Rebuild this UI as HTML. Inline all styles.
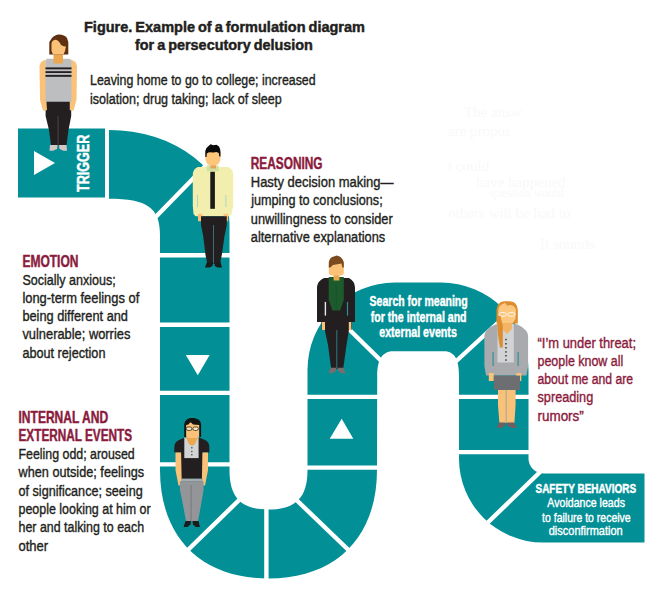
<!DOCTYPE html>
<html><head><meta charset="utf-8"><style>
html,body{margin:0;padding:0;background:#fff;}
body{width:665px;height:600px;overflow:hidden;}
svg{display:block;}
svg{font-family:"Liberation Sans", sans-serif;}
</style></head><body>
<svg width="665" height="600" viewBox="0 0 665 600">
<g style="font-family:'Liberation Serif',serif" font-size="15" fill="#f9f9f9">
<text x="464" y="117">The answ</text>
<text x="448" y="136">are propos</text>
<text x="448" y="171">t could</text>
<text x="476" y="187">have happened</text>
<text x="490" y="197" font-size="12">question would</text>
<text x="448" y="218">others will be had to</text>
<text x="540" y="249">It sounds</text>
</g>

<path fill="#028f96" d="M109,130 A120.5,93.5 0 0 1 229.5,223.5 L229.5,470
 C229.5,497.65 241.2,509.5 268.5,509.5 C295.8,509.5 307.5,497.65 307.5,470
 L307.5,370 A87.5,87.5 0 0 1 395,282.5 L441,282.5 A87.5,87.5 0 0 1 528.5,370
 L528.5,458.5 A15,15 0 0 0 543.5,473.5 L644.5,473.5 L644.5,542.5 L543,542.5
 A84,84 0 0 1 459,458.5 L459,376 C459,362 456,351.3 444,351.3 L393,351.3 C381,351.3 377.2,362 377.2,376
 L377,470 C377,537.3 335.8,578.5 268.5,578.5 C201.2,578.5 160,537.3 160,470
 L160,235 C160,207.8 147.25,198.75 109,198.75 Z"/>
<rect x="18" y="128.5" width="87" height="69" fill="#028f96"/>


<g stroke="#fff" stroke-width="4.4">
<line x1="141" y1="232" x2="223" y2="148"/>
<line x1="150" y1="255.25" x2="240" y2="255.25"/>
<line x1="150" y1="324.75" x2="240" y2="324.75"/>
<line x1="150" y1="392.9" x2="240" y2="392.9"/>
<line x1="150" y1="464.35" x2="240" y2="464.35"/>
<line x1="171.5" y1="566" x2="253.5" y2="486"/>
<line x1="266.4" y1="500" x2="266.4" y2="590"/>
<line x1="285" y1="489" x2="362" y2="563"/>
<line x1="300" y1="467.65" x2="390" y2="467.65"/>
<line x1="300" y1="396.85" x2="540" y2="396.85"/>
<line x1="336" y1="316.5" x2="392" y2="371.5"/>
<line x1="446" y1="370.5" x2="508" y2="313.5"/>
<line x1="450" y1="452.1" x2="540" y2="452.1"/>
<line x1="477" y1="533" x2="554" y2="458.5"/>
</g>
<polygon fill="#fff" points="34,151 55,163 34,175"/>
<polygon fill="#fff" points="185.8,355 209.7,355 197.8,375.3"/>
<polygon fill="#fff" points="341.7,418.7 353.3,438.8 329.7,438.8"/>

<g id="p1">
<!-- arms -->
<polygon fill="#f9c278" points="41,62 45.5,59.5 47.5,102 47,110.5 43,110.5 40,100 39.5,66"/>
<polygon fill="#f9c278" points="71,59.5 75.5,62 77,66 76.5,100 73.5,110.5 69.5,110.5 69.5,102"/>
<!-- shirt -->
<path fill="#bcbec0" d="M47,58.8 L69.5,58.8 Q71.5,59.5 71.5,62 L71.5,102 L45.5,102 L45.5,62 Q45.5,59.5 47,58.8Z"/>
<rect x="45.5" y="67.4" width="26" height="1.9" fill="#231f20"/>
<rect x="45.5" y="71.2" width="26" height="1.8" fill="#231f20"/>
<rect x="45.5" y="74.9" width="26" height="1.9" fill="#231f20"/>
<!-- neck -->
<rect x="53.5" y="53" width="9.5" height="10.5" fill="#eba84e"/>
<!-- hair -->
<path fill="#5e2f10" d="M52,38 Q55,34.5 59,34.5 Q64.5,34.5 67,38 L68.3,42 L68.3,54.6 L49.3,54.6 L49.3,42 Z"/>
<!-- face -->
<path fill="#f9c278" d="M51.5,43 Q53,39.5 56,39.8 Q59.5,41 61,45 Q64,46.5 66,46.5 L65,51 L63.5,54.6 L53,54.6 L51.5,51 Z"/>
<!-- pants -->
<polygon fill="#231f20" points="46.5,101.8 69.8,101.8 69.8,110 71.2,110.5 71.2,116 68.5,130 66.5,145.2 51,145.2 49,130 45.6,116 45.6,110.5 47,110"/>
<rect x="57.6" y="116" width="0.9" height="29" fill="#4a4a4c"/>
<path fill="#d6c6c6" d="M50,145 L57.5,145 L57,149 L53,150.7 L49.5,150.7 Z M59,145 L66.5,145 L67,150.7 L63.5,150.7 L59.5,149 Z"/>
</g>

<g id="p2">
<!-- shirt -->
<path fill="#f2eeae" d="M198,167 L228,167 Q232.5,168.5 233.2,174 L233.2,206 L231.5,214 L229.5,216.3 L195.5,216.3 L193.5,214 L192.8,206 L192.8,174 Q193.5,168.5 198,167Z"/>
<rect x="197.2" y="195" width="0.8" height="12" fill="#9fcfc4"/>
<rect x="225.5" y="195" width="0.8" height="12" fill="#9fcfc4"/>
<!-- collar -->
<rect x="206.8" y="165.5" width="11.8" height="5.8" fill="#cfe09f"/>
<rect x="210.5" y="164" width="5.5" height="4.5" fill="#e9a25a"/>
<!-- tie -->
<rect x="210.3" y="171.8" width="4.6" height="37" fill="#1c1a1a"/>
<!-- head -->
<polygon fill="#fdc67a" points="205.5,152 220.4,152 220.4,160 218.5,164 215.5,165.6 210,165.6 207.3,164 205.5,160"/>
<path fill="#0a0a0a" d="M205.3,157 L205.3,151 Q206,147.5 208,146.5 L210.5,144.3 L213.5,145.3 L216.5,144.8 L219,146.5 Q220.5,149 220.5,152 L220.5,156.5 L219.3,156.5 L218.8,153 L216.5,152 L213.5,152.6 L209,152.3 L206.8,153.5 L206.5,157 Z"/>
<!-- hands -->
<rect x="198" y="213.8" width="4.4" height="7.4" fill="#fbc278"/>
<rect x="223.6" y="213.8" width="4.4" height="7.4" fill="#fbc278"/>
<!-- pants -->
<polygon fill="#231f20" points="201,216.2 226.8,216.2 226.8,225 224.5,236 221.8,255 220,263.8 207.4,263.8 205.5,255 203.2,236 201,225"/>
<rect x="213" y="225" width="1" height="38" fill="#3a6e70"/>
<path fill="#1c1a1a" d="M207,262 L213,262 L212.5,266 L209.5,267.6 L205,267.6 Z M214.5,262 L220.5,262 L222,267.6 L217.5,267.6 L214.8,266 Z"/>
</g>

<g id="p3">
<!-- jacket -->
<path fill="#231f20" d="M324,278 L349,278 Q354.5,281 355,287 L355,322 L351.5,322 L351.5,330 L321.5,330 L321.5,322 L317,322 L317,287 Q317.5,281 324,278Z"/>
<rect x="324.7" y="301.9" width="1.4" height="13.7" fill="#e6e6e6"/>
<rect x="346.9" y="301.9" width="1.2" height="13.7" fill="#2f8f96"/>
<!-- scarf -->
<polygon fill="#1d5b2d" points="328.7,277 343.8,277 343.8,300 340,310.6 332.5,310.6 328.7,300"/>
<rect x="335.8" y="285" width="0.9" height="24" fill="#17502a"/>
<!-- neck & head -->
<rect x="333.6" y="274" width="5.8" height="6.5" fill="#eba84e"/>
<rect x="328.8" y="262" width="15" height="13.6" rx="3" fill="#fbc278"/>
<path fill="#7b4a1f" d="M328.8,267.5 L328.8,262 Q330,257 334,256.6 L336.5,255.6 Q342,256.5 343.8,262 L343.8,267.5 L342.3,267.5 L341.5,263.5 L333,265 L330.3,267.5 Z"/>
<!-- hands -->
<rect x="321.9" y="322" width="5" height="8" fill="#fbc278"/>
<rect x="346.2" y="322" width="5" height="8" fill="#fbc278"/>
<!-- pants -->
<polygon fill="#231f20" points="325,318.7 348.8,318.7 348.8,331 346.5,345 343.2,368.8 331.2,368.8 328,345 325,331"/>
<rect x="336.3" y="330" width="1" height="38" fill="#2d7b80"/>
<path fill="#7d6e6e" d="M330.5,367.8 L336.5,367.8 L335.5,371.5 L332,373.2 L328.8,373.2 Z M337.5,367.8 L343.5,367.8 L345.6,373.2 L342,373.2 L338.5,371.5 Z"/>
</g>

<g id="p4">
<!-- cardigan -->
<path fill="#a8aaad" d="M496,324.2 L517,324.2 L522,327 L526.5,331 L528.1,335 L528.1,366 L526.5,375.6 L486,375.6 L484.4,366 L484.4,335 L486,331 L490.5,327 Z"/>
<rect x="492.5" y="352" width="1.2" height="14" fill="#2f9096"/>
<rect x="517.5" y="352" width="1.2" height="14" fill="#2f9096"/>
<rect x="497.5" y="323.7" width="16.3" height="38.8" fill="#d1d3d4"/>
<g fill="#58595b"><rect x="505" y="338.8" width="1.9" height="1.5"/><rect x="505" y="343" width="1.9" height="1.5"/><rect x="505" y="347" width="1.9" height="1.5"/><rect x="505" y="351.2" width="1.9" height="1.5"/><rect x="505" y="355" width="1.9" height="1.5"/><rect x="505" y="359.3" width="1.9" height="1.5"/></g>
<!-- neck -->
<polygon fill="#f3b565" points="502,322 512,322 512,329 507,334 502,329"/>
<!-- hair back & face -->
<path fill="#dd8d2e" d="M496.5,323.5 L496.5,310 Q497,302 504,301.3 L510,301.3 Q517.5,302 517.8,310 L517.8,323.5 Z"/>
<path fill="#fcc880" d="M498.3,310 Q499,305 503,304 L505,302.8 L507,305.5 L511,305 Q515.5,306 516,310.5 L515.5,319 L512.5,323.5 L501.5,323.5 L498.3,319 Z"/>
<g fill="none" stroke="#fff6ea" stroke-width="1"><rect x="499.3" y="312.6" width="7" height="3.6" rx="1.8"/><rect x="507.9" y="312.6" width="7" height="3.6" rx="1.8"/></g>
<polygon fill="#dd8d2e" points="496.8,316 500.5,316 502.8,326 502.8,347.5 500,347.5 498,335"/>
<!-- hands -->
<rect x="488.8" y="373" width="5" height="8" fill="#f9c278"/>
<rect x="516.3" y="373" width="5" height="8" fill="#f9c278"/>
<!-- skirt -->
<rect x="493.8" y="375.6" width="26.2" height="14.4" fill="#6d6e71"/>
<!-- legs -->
<polygon fill="#f9c278" points="498,390 515.6,390 515.6,405 514.4,423 499.4,423 498,405"/>
<rect x="505.6" y="390" width="1.2" height="33" fill="#aab098"/>
<path fill="#6f5f60" d="M498.8,422.5 L505.5,422.5 L505,426 L501,428 L496.9,428 Z M507,422.5 L514,422.5 L517,428 L512.5,428 L507.5,426 Z"/>
</g>

<g id="p5">
<!-- shirt -->
<path fill="#231f20" d="M185,437.5 L199,437.5 L205,440 Q209.3,442 209.3,447 L209.3,452.5 L203,452.5 L203,478.8 L181,478.8 L181,452.5 L174.3,452.5 L174.3,447 Q174.5,442 179,440 Z"/>
<rect x="184.3" y="437.5" width="14.3" height="20.6" fill="#d1d3d4"/>
<polygon fill="#eba84e" points="186,437.5 198,437.5 195,444 192,446 189,444"/>
<g fill="#58595b"><rect x="191.1" y="447" width="1.4" height="1.4"/><rect x="191.1" y="450.8" width="1.4" height="1.4"/><rect x="191.1" y="454" width="1.4" height="1.4"/></g>
<!-- head -->
<rect x="186.1" y="422.5" width="13.2" height="15.6" rx="2.5" fill="#f9c278"/>
<path fill="#141414" d="M184.2,437 L184.2,424 Q185.5,418.5 191,418.1 L194,418.1 Q200,418.8 201.1,424 L201.1,437 L199.3,437 L199.3,425 L193,424.5 L190.5,422 L188.5,424.5 L186.1,425 L186.1,437 Z"/>
<g fill="#fbeccb" stroke="#4a3520" stroke-width="0.9"><rect x="186.3" y="427" width="5.6" height="3.4" rx="1.7"/><rect x="192.8" y="427" width="5.6" height="3.4" rx="1.7"/></g>
<!-- arms -->
<polygon fill="#f9c278" points="175.5,452.5 181.1,452.5 181.8,485.6 178.5,485.6 175.5,470"/>
<polygon fill="#f9c278" points="202.4,452.5 208,452.5 208,470 205,485.6 201.8,485.6"/>
<!-- pants -->
<rect x="181" y="478.7" width="22" height="2.6" fill="#a8aaad"/>
<polygon fill="#939598" points="179.9,481.2 203.6,481.2 203.6,490 201,505 198,521.3 186,521.3 183,505 179.9,490"/>
<rect x="190.5" y="485" width="1.2" height="36" fill="#7e7f82"/>
<path fill="#1c1a1a" d="M185.5,521 L191,521 L190.5,524.5 L187.5,527 L183.6,527 Z M192.5,521 L198.5,521 L199.9,527 L195.8,527 L193,524.5 Z"/>
</g>

<text transform="translate(84.00,31.60) scale(1.0370,1)" font-size="14" font-weight="bold" fill="#231f20" stroke="#231f20" stroke-width="0.45" word-spacing="-1.0">Figure. Example of a formulation diagram</text>
<text transform="translate(135.00,49.60) scale(1.0299,1)" font-size="14" font-weight="bold" fill="#231f20" stroke="#231f20" stroke-width="0.45" word-spacing="-1.0">for a persecutory delusion</text>
<text transform="translate(90.00,84.90) scale(0.7990,1)" font-size="15.5" font-weight="normal" fill="#231f20" stroke="#231f20" stroke-width="0.4">Leaving home to go to college; increased</text>
<text transform="translate(90.00,103.70) scale(0.8095,1)" font-size="15.5" font-weight="normal" fill="#231f20" stroke="#231f20" stroke-width="0.4">isolation; drug taking; lack of sleep</text>
<text transform="translate(250.80,169.00) scale(0.7599,1)" font-size="15.6" font-weight="bold" fill="#8b1b3d" stroke="#8b1b3d" stroke-width="0.45">REASONING</text>
<text transform="translate(250.80,187.10) scale(0.8373,1)" font-size="15.5" font-weight="normal" fill="#231f20" stroke="#231f20" stroke-width="0.4">Hasty decision making—</text>
<text transform="translate(251.14,205.20) scale(0.8173,1)" font-size="15.5" font-weight="normal" fill="#231f20" stroke="#231f20" stroke-width="0.4">jumping to conclusions;</text>
<text transform="translate(250.80,223.60) scale(0.8241,1)" font-size="15.5" font-weight="normal" fill="#231f20" stroke="#231f20" stroke-width="0.4">unwillingness to consider</text>
<text transform="translate(250.80,241.50) scale(0.8253,1)" font-size="15.5" font-weight="normal" fill="#231f20" stroke="#231f20" stroke-width="0.4">alternative explanations</text>
<text transform="translate(22.40,266.50) scale(0.7706,1)" font-size="15.6" font-weight="bold" fill="#8b1b3d" stroke="#8b1b3d" stroke-width="0.45">EMOTION</text>
<text transform="translate(22.40,284.60) scale(0.8092,1)" font-size="15.5" font-weight="normal" fill="#231f20" stroke="#231f20" stroke-width="0.4">Socially anxious;</text>
<text transform="translate(22.40,302.80) scale(0.8328,1)" font-size="15.5" font-weight="normal" fill="#231f20" stroke="#231f20" stroke-width="0.4">long-term feelings of</text>
<text transform="translate(22.40,321.20) scale(0.8249,1)" font-size="15.5" font-weight="normal" fill="#231f20" stroke="#231f20" stroke-width="0.4">being different and</text>
<text transform="translate(22.40,339.40) scale(0.8302,1)" font-size="15.5" font-weight="normal" fill="#231f20" stroke="#231f20" stroke-width="0.4">vulnerable; worries</text>
<text transform="translate(22.40,357.50) scale(0.8173,1)" font-size="15.5" font-weight="normal" fill="#231f20" stroke="#231f20" stroke-width="0.4">about rejection</text>
<text transform="translate(18.50,422.70) scale(0.7725,1)" font-size="15.6" font-weight="bold" fill="#8b1b3d" stroke="#8b1b3d" stroke-width="0.45">INTERNAL AND</text>
<text transform="translate(18.50,440.60) scale(0.7553,1)" font-size="15.6" font-weight="bold" fill="#8b1b3d" stroke="#8b1b3d" stroke-width="0.45">EXTERNAL EVENTS</text>
<text transform="translate(18.50,459.20) scale(0.7985,1)" font-size="15.5" font-weight="normal" fill="#231f20" stroke="#231f20" stroke-width="0.4">Feeling odd; aroused</text>
<text transform="translate(18.54,477.40) scale(0.8192,1)" font-size="15.5" font-weight="normal" fill="#231f20" stroke="#231f20" stroke-width="0.4">when outside; feelings</text>
<text transform="translate(18.50,495.60) scale(0.8150,1)" font-size="15.5" font-weight="normal" fill="#231f20" stroke="#231f20" stroke-width="0.4">of significance; seeing</text>
<text transform="translate(18.50,513.70) scale(0.8040,1)" font-size="15.5" font-weight="normal" fill="#231f20" stroke="#231f20" stroke-width="0.4">people looking at him or</text>
<text transform="translate(18.50,532.40) scale(0.8016,1)" font-size="15.5" font-weight="normal" fill="#231f20" stroke="#231f20" stroke-width="0.4">her and talking to each</text>
<text transform="translate(18.50,550.50) scale(0.8404,1)" font-size="15.5" font-weight="normal" fill="#231f20" stroke="#231f20" stroke-width="0.4">other</text>
<text transform="translate(537.50,347.50) scale(0.8355,1)" font-size="15.5" font-weight="normal" fill="#8b1b3d" stroke="#8b1b3d" stroke-width="0.4">“I’m under threat;</text>
<text transform="translate(537.50,365.50) scale(0.8030,1)" font-size="15.5" font-weight="normal" fill="#8b1b3d" stroke="#8b1b3d" stroke-width="0.4">people know all</text>
<text transform="translate(537.50,383.50) scale(0.7883,1)" font-size="15.5" font-weight="normal" fill="#8b1b3d" stroke="#8b1b3d" stroke-width="0.4">about me and are</text>
<text transform="translate(537.50,402.00) scale(0.8194,1)" font-size="15.5" font-weight="normal" fill="#8b1b3d" stroke="#8b1b3d" stroke-width="0.4">spreading</text>
<text transform="translate(537.50,420.50) scale(0.8675,1)" font-size="15.5" font-weight="normal" fill="#8b1b3d" stroke="#8b1b3d" stroke-width="0.4">rumors”</text>
<text transform="translate(369.60,306.20) scale(0.7304,1)" font-size="14.4" font-weight="bold" fill="#fff" stroke="#fff" stroke-width="0.45">Search for meaning</text>
<text transform="translate(370.80,321.60) scale(0.7353,1)" font-size="14.4" font-weight="bold" fill="#fff" stroke="#fff" stroke-width="0.45">for the internal and</text>
<text transform="translate(379.20,337.20) scale(0.7418,1)" font-size="14.4" font-weight="bold" fill="#fff" stroke="#fff" stroke-width="0.45">external events</text>
<text transform="translate(535.50,492.60) scale(0.7931,1)" font-size="12.6" font-weight="bold" fill="#fff" stroke="#fff" stroke-width="0.45">SAFETY BEHAVIORS</text>
<text transform="translate(547.30,507.00) scale(0.8165,1)" font-size="13" font-weight="normal" fill="#fff" stroke="#fff" stroke-width="0.4">Avoidance leads</text>
<text transform="translate(542.10,521.70) scale(0.8075,1)" font-size="13" font-weight="normal" fill="#fff" stroke="#fff" stroke-width="0.4">to failure to receive</text>
<text transform="translate(548.70,535.20) scale(0.8474,1)" font-size="13" font-weight="normal" fill="#fff" stroke="#fff" stroke-width="0.4">disconfirmation</text>
<text transform="translate(89.3,192.00) rotate(-90) scale(0.7498,1)" font-size="16.8" font-weight="bold" fill="#fff" stroke="#fff" stroke-width="0.5">TRIGGER</text>
</svg>
</body></html>
